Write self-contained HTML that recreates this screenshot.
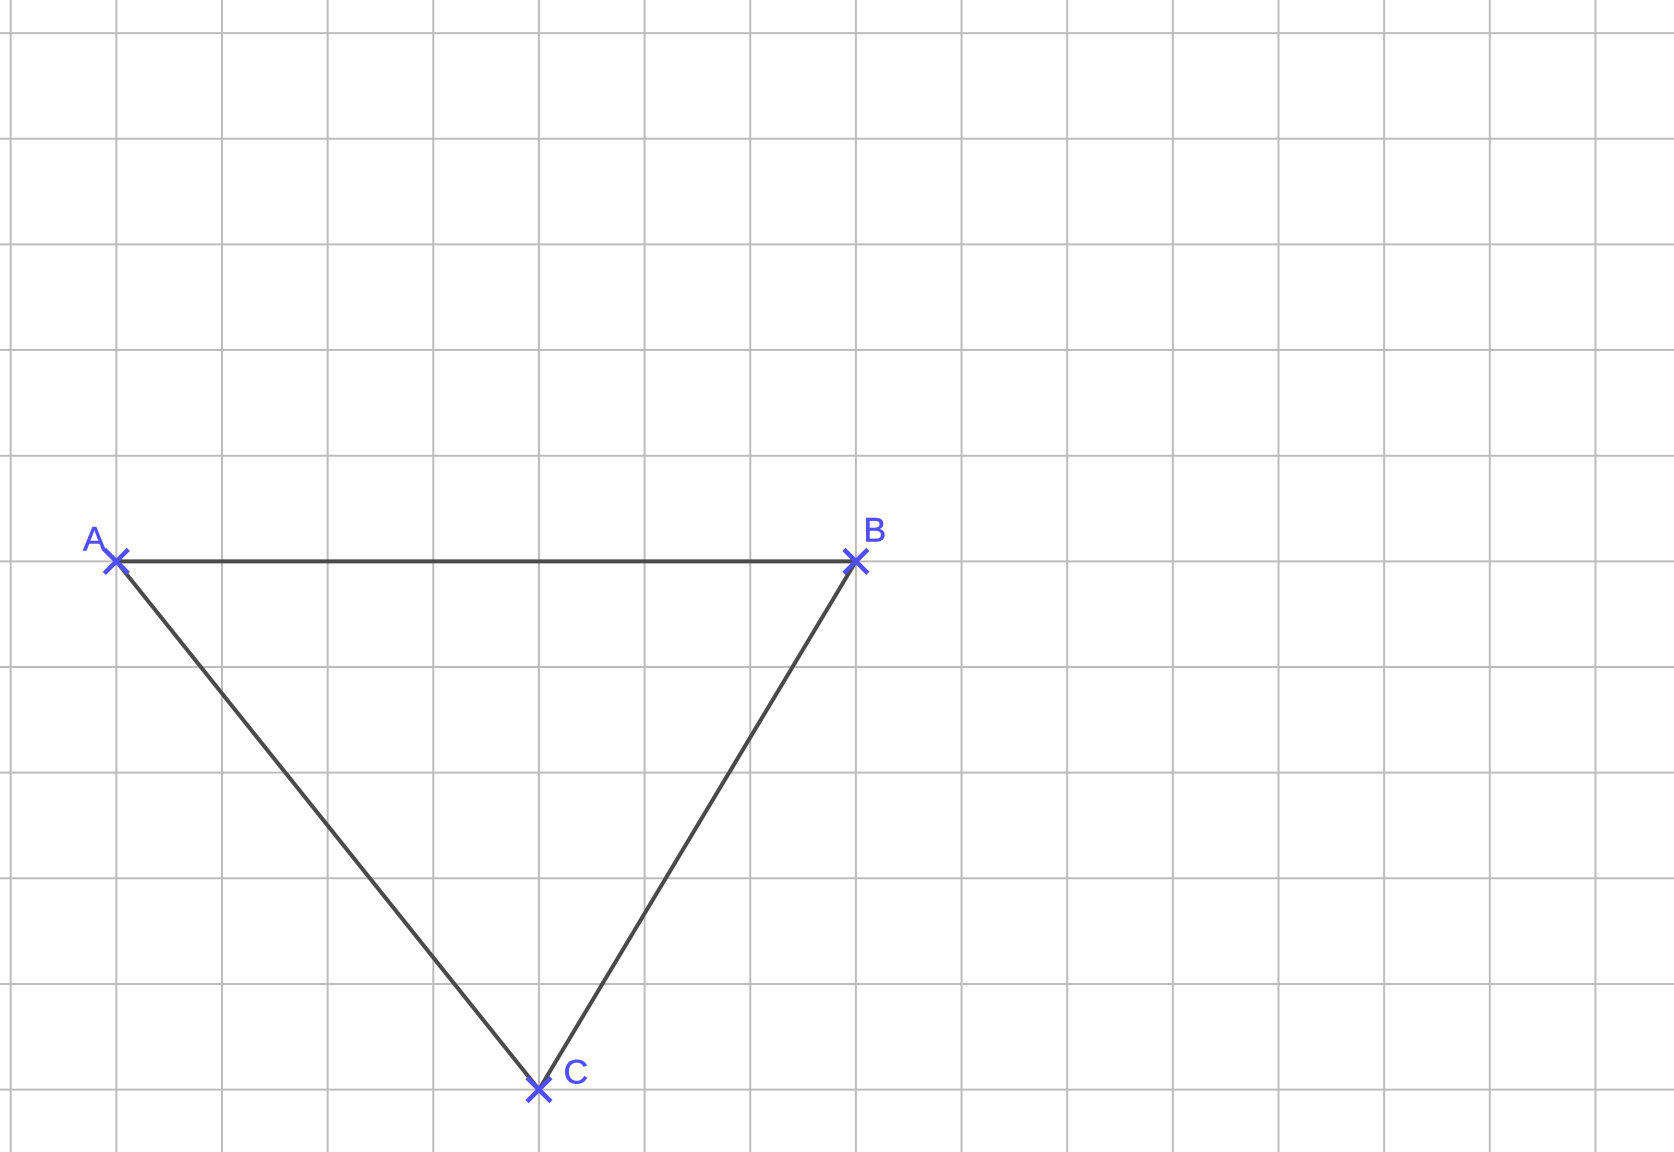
<!DOCTYPE html>
<html><head><meta charset="utf-8"><style>
html,body{margin:0;padding:0;background:#fff;width:1674px;height:1152px;overflow:hidden}
svg{display:block}
</style></head><body>
<svg id="chart" width="1674" height="1152" xmlns="http://www.w3.org/2000/svg">
<g id="grid"></g>
<g id="edges"></g>
<g id="pts"></g>
</svg>
<script>
const pointNames = ["A","B","C"];
const pointX = [1, 8, 5];
const pointY = [5, 5, 10];
const edgeFrom = [0, 0, 1];
const edgeTo = [1, 2, 2];
const labelDx = [-22, 19, 37];
const labelDy = [-11, -20, -6];
const NS = "http://www.w3.org/2000/svg";
const x0 = 10.7, y0 = 33.1, step = 105.65;
function sx(v){return x0 + v*step;}
function sy(v){return y0 + v*step;}
const grid = document.getElementById('grid');
for(let i=0;i<16;i++){
  const l=document.createElementNS(NS,'line');
  
  
  l.setAttribute('x1',sx(i));l.setAttribute('x2',sx(i));l.setAttribute('y1',0);l.setAttribute('y2',1152);
  l.setAttribute('stroke','#bdbdbd');l.setAttribute('stroke-width','2');
  grid.appendChild(l);
}
for(let j=0;j<11;j++){
  const l=document.createElementNS(NS,'line');
  
  
  l.setAttribute('y1',sy(j));l.setAttribute('y2',sy(j));l.setAttribute('x1',0);l.setAttribute('x2',1674);
  l.setAttribute('stroke','#bdbdbd');l.setAttribute('stroke-width','2');
  grid.appendChild(l);
}
const edges=document.getElementById('edges');
for(let k=0;k<edgeFrom.length;k++){
  const a=edgeFrom[k], b=edgeTo[k];
  const l=document.createElementNS(NS,'line');
  
  
  l.setAttribute('x1',sx(pointX[a]));l.setAttribute('y1',sy(pointY[a]));
  l.setAttribute('x2',sx(pointX[b]));l.setAttribute('y2',sy(pointY[b]));
  l.setAttribute('stroke','#4a4a4a');l.setAttribute('stroke-width','4');
  edges.appendChild(l);
}
const pts=document.getElementById('pts');
for(let k=0;k<pointNames.length;k++){
  const cx=sx(pointX[k]), cy=sy(pointY[k]), r=12;
  const g=document.createElementNS(NS,'g');
  
  
  const p=document.createElementNS(NS,'path');
  p.setAttribute('d',`M${cx-r} ${cy-r}L${cx+r} ${cy+r}M${cx-r} ${cy+r}L${cx+r} ${cy-r}`);
  p.setAttribute('stroke','#4f4fff');p.setAttribute('stroke-width','4.5');
  g.appendChild(p);
  const t=document.createElementNS(NS,'text');
  
  
  t.setAttribute('x',cx+labelDx[k]);t.setAttribute('y',cy+labelDy[k]);
  t.setAttribute('font-family','"Liberation Sans", sans-serif');
  t.setAttribute('font-size','34');t.setAttribute('fill','#4f4fff');
  t.setAttribute('stroke','#4f4fff');t.setAttribute('stroke-width','0.6');
  t.setAttribute('text-anchor','middle');
  t.textContent=pointNames[k];
  g.appendChild(t);
  pts.appendChild(g);
}
</script>
</body></html>
